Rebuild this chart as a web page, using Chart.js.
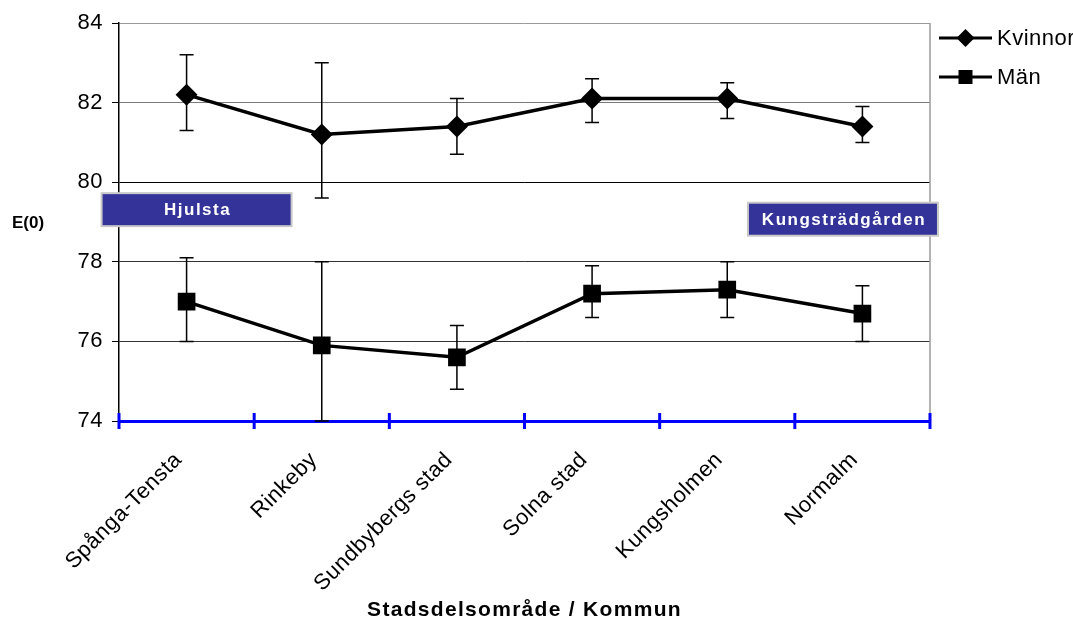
<!DOCTYPE html>
<html>
<head>
<meta charset="utf-8">
<script src="https://cdn.jsdelivr.net/npm/chart.js@4.4.1/dist/chart.umd.min.js"></script>
<style>
  html, body { margin: 0; padding: 0; background: #fff; }
  #wrap { width: 1073px; height: 620px; }
</style>
</head>
<body>
<div id="wrap"><canvas id="c" width="1073" height="620"></canvas></div>
<script>
// Life expectancy at birth, E(0), by district / municipality
const categories = ['Spånga-Tensta', 'Rinkeby', 'Sundbybergs stad', 'Solna stad', 'Kungsholmen', 'Normalm'];

const kvinnor     = [82.2, 81.2, 81.4, 82.1, 82.1, 81.4];
const kvinnorLow  = [81.3, 79.6, 80.7, 81.5, 81.6, 81.0];
const kvinnorHigh = [83.2, 83.0, 82.1, 82.6, 82.5, 81.9];

const man     = [77.0, 75.9, 75.6, 77.2, 77.3, 76.7];
const manLow  = [76.0, 74.0, 74.8, 76.6, 76.6, 76.0];
const manHigh = [78.1, 78.0, 76.4, 77.9, 78.0, 77.4];

const yTicks = [74, 76, 78, 80, 82, 84];

const seriesNames = ['Kvinnor', 'Män'];
const yTitle = 'E(0)';
const xTitle = 'Stadsdelsområde / Kommun';

// Area labels placed on the chart (category position, value position)
const boxLabels = [
  { text: 'Hjulsta', category: 0.074, value: 79.31 },
  { text: 'Kungsträdgården', category: 4.856, value: 79.07 }
];

const FONT = "'Liberation Sans', Arial, sans-serif";

function gridColor(v) {
  if (v === 84) return '#9a9a9a';
  if (v === 82) return '#7a7a7a';
  if (v === 80) return '#000000';
  return '#333333';
}

const decor = {
  id: 'decor',
  beforeDraw(chart) {
    chart.ctx.letterSpacing = '0.5px';
  },
  beforeDatasetsDraw(chart) {
    const { ctx, chartArea: a, scales: { x, y } } = chart;
    // right frame of the plot area
    ctx.save();
    ctx.strokeStyle = '#9a9a9a';
    ctx.lineWidth = 1.5;
    ctx.beginPath();
    ctx.moveTo(a.right, a.top);
    ctx.lineTo(a.right, a.bottom);
    ctx.stroke();
    // error bars
    const sets = [[kvinnorLow, kvinnorHigh], [manLow, manHigh]];
    ctx.strokeStyle = '#000';
    ctx.lineWidth = 1.5;
    sets.forEach(([lo, hi]) => {
      lo.forEach((l, i) => {
        const px = x.getPixelForValue(i);
        const y1 = y.getPixelForValue(l);
        const y2 = y.getPixelForValue(hi[i]);
        ctx.beginPath();
        ctx.moveTo(px, y1); ctx.lineTo(px, y2);
        ctx.moveTo(px - 7, y1); ctx.lineTo(px + 7, y1);
        ctx.moveTo(px - 7, y2); ctx.lineTo(px + 7, y2);
        ctx.stroke();
      });
    });
    ctx.restore();
  },
  afterDraw(chart) {
    const { ctx, chartArea: a, scales: { x, y } } = chart;
    ctx.save();
    // category boundary ticks on the x axis
    const n = categories.length;
    const step = (x.right - x.left) / n;
    ctx.strokeStyle = '#0000ff';
    ctx.lineWidth = 3;
    for (let i = 0; i <= n; i++) {
      const px = x.left + i * step;
      ctx.beginPath();
      ctx.moveTo(px, a.bottom - 8);
      ctx.lineTo(px, a.bottom + 8);
      ctx.stroke();
    }

    // area label boxes
    ctx.letterSpacing = '1.5px';
    ctx.font = 'bold 17px ' + FONT;
    ctx.textAlign = 'center';
    ctx.textBaseline = 'middle';
    boxLabels.forEach((b) => {
      const cx = x.getPixelForValue(b.category);
      const cy = y.getPixelForValue(b.value);
      const w = 190, h = 33;
      ctx.fillStyle = '#333399';
      ctx.fillRect(cx - w / 2, cy - h / 2, w, h);
      ctx.strokeStyle = '#c8c8c8';
      ctx.lineWidth = 2;
      ctx.strokeRect(cx - w / 2, cy - h / 2, w, h);
      ctx.fillStyle = '#ffffff';
      ctx.fillText(b.text, cx + 1, cy + 1);
    });

    // legend
    const ds = chart.data.datasets;
    const lx1 = a.right + 9, lx2 = a.right + 62;
    const rows = [38, 77];
    ctx.letterSpacing = '0.5px';
    ctx.textAlign = 'left';
    ctx.font = '22px ' + FONT;
    ds.forEach((d, i) => {
      const ly = rows[i];
      const mx = (lx1 + lx2) / 2;
      ctx.strokeStyle = d.borderColor;
      ctx.lineWidth = 3;
      ctx.beginPath();
      ctx.moveTo(lx1, ly); ctx.lineTo(lx2, ly);
      ctx.stroke();
      ctx.fillStyle = d.pointBackgroundColor;
      ctx.beginPath();
      if (d.pointStyle === 'rectRot') {
        const r = 9;
        ctx.moveTo(mx, ly - r); ctx.lineTo(mx + r, ly);
        ctx.lineTo(mx, ly + r); ctx.lineTo(mx - r, ly);
        ctx.closePath();
      } else {
        ctx.rect(mx - 7, ly - 7, 14, 14);
      }
      ctx.fill();
      ctx.fillStyle = '#000';
      ctx.fillText(d.label, lx2 + 5, ly + 1);
    });

    // axis titles
    ctx.font = 'bold 21px ' + FONT;
    ctx.letterSpacing = '1.3px';
    ctx.textAlign = 'center';
    ctx.textBaseline = 'alphabetic';
    ctx.fillText(xTitle, (a.left + a.right) / 2, 616);
    ctx.letterSpacing = '0px';
    ctx.font = 'bold 17px ' + FONT;
    ctx.textAlign = 'left';
    ctx.textBaseline = 'middle';
    ctx.fillText(yTitle, 12, 223);
    ctx.restore();
  }
};

new Chart(document.getElementById('c'), {
  type: 'line',
  data: {
    labels: categories,
    datasets: [
      {
        label: seriesNames[0],
        data: kvinnor,
        borderColor: '#000',
        borderWidth: 3.5,
        pointStyle: 'rectRot',
        pointRadius: 11,
        pointBackgroundColor: '#000',
        pointBorderColor: '#000',
        pointBorderWidth: 0,
        tension: 0
      },
      {
        label: seriesNames[1],
        data: man,
        borderColor: '#000',
        borderWidth: 3.5,
        pointStyle: 'rect',
        pointRadius: 12.5,
        pointBackgroundColor: '#000',
        pointBorderColor: '#000',
        pointBorderWidth: 0,
        tension: 0
      }
    ]
  },
  options: {
    responsive: false,
    animation: false,
    events: [],
    layout: { padding: { left: 0, top: 23, right: 143, bottom: 0 } },
    plugins: {
      legend: { display: false },
      tooltip: { enabled: false }
    },
    scales: {
      x: {
        type: 'category',
        offset: true,
        grid: { display: false, drawTicks: false },
        border: { display: true, color: '#0000ff', width: 3 },
        ticks: {
          autoSkip: false,
          minRotation: 45,
          maxRotation: 45,
          padding: 26,
          labelOffset: -8,
          color: '#000',
          font: { family: FONT, size: 22 }
        },
        afterFit(scale) { scale.height = 199; }
      },
      y: {
        min: 74,
        max: 84,
        afterBuildTicks(scale) { scale.ticks = yTicks.map(v => ({ value: v })); },
        grid: {
          color: (c) => gridColor(c.tick && c.tick.value),
          lineWidth: 1,
          drawTicks: true,
          tickLength: 7,
          tickColor: '#000'
        },
        border: { display: true, color: '#000', width: 1.5 },
        ticks: {
          padding: 9,
          color: '#000',
          font: { family: FONT, size: 22 }
        },
        afterFit(scale) { scale.width = 119; }
      }
    }
  },
  plugins: [decor]
});
</script>
</body>
</html>
